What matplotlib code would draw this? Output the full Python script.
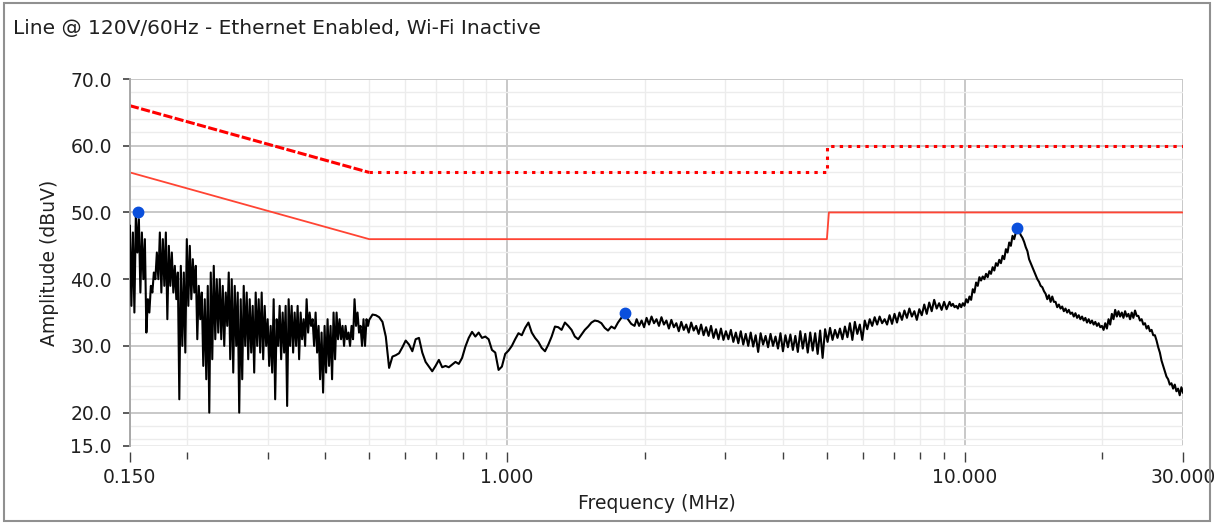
import matplotlib
matplotlib.use('Agg')
import matplotlib.pyplot as plt
from matplotlib.patches import Rectangle
from matplotlib.ticker import FixedLocator, NullFormatter
import numpy as np

seg_a_span = (0.150, 0.497)
seg_a_amp = [48, 36, 47, 35, 50, 44, 49, 38, 47, 40, 46, 32, 37, 35, 39, 38,
             41, 40, 44, 40, 47, 38, 46, 39, 47, 34, 45, 39, 44, 38, 42, 37,
             41, 22, 42, 30, 41, 29, 46, 36, 45, 37, 43, 38, 42, 31, 39, 34,
             38, 27, 37, 25, 39, 20, 41, 28, 42, 31, 40, 32, 40, 31, 39, 30,
             38, 33, 41, 28, 40, 26, 39, 30, 38, 20, 37, 25, 39, 30, 38, 28,
             37, 29, 36, 26, 38, 30, 37, 29, 38, 28, 36, 30, 34, 27, 33, 26,
             37, 22, 34, 30, 36, 28, 35, 29, 36, 21, 37, 30, 36, 29, 35, 30,
             36, 28, 35, 31, 34, 30, 37, 32, 35, 33, 34, 30, 35, 29, 33, 25,
             32, 23, 33, 26, 34, 27, 33, 25, 35, 28, 35, 31, 34, 31, 33, 30,
             33, 31, 32, 30, 33, 31, 37, 33, 35, 32, 33, 30, 34, 30, 34, 33]

seg_b_span = (0.500, 1.90)
seg_b_amp = [33.9, 34.7, 34.6, 34.3, 33.6, 31.4, 26.7, 28.4, 28.6, 28.9,
             29.8, 30.8, 30.2, 29.2, 31.0, 31.2, 29.0, 27.6, 26.9, 26.2,
             27.0, 27.9, 26.8, 27.0, 26.8, 27.2, 27.6, 27.3, 28.2, 29.9,
             31.2, 32.1, 31.4, 32.0, 31.2, 31.4, 31.0, 29.4, 29.0, 26.4,
             26.9, 28.8, 29.3, 30.0, 31.0, 31.9, 31.6, 32.7, 33.5, 32.0,
             31.2, 30.6, 29.7, 29.2, 30.2, 31.4, 32.9, 32.8, 32.4, 33.5,
             33.0, 32.4, 31.4, 31.0, 31.7, 32.4, 32.9, 33.5, 33.8, 33.7,
             33.4, 32.7, 32.3, 32.9, 32.6, 33.5, 34.2, 34.8, 34.0, 33.3, 33.0]

seg_c_span = (1.92, 9.13)
seg_c_amp = [34.0, 33.0, 33.8, 32.8, 34.2, 33.2, 34.4, 33.4, 34.0, 33.0,
             34.3, 33.2, 33.8, 32.6, 33.9, 32.8, 33.4, 32.2, 33.6, 32.4,
             33.2, 32.0, 33.5, 32.3, 33.0, 31.8, 33.2, 31.6, 32.8, 31.5,
             33.0, 31.2, 32.5, 31.0, 32.6, 30.9, 32.2, 31.0, 32.4, 30.6,
             32.0, 30.4, 32.2, 30.2, 31.8, 30.0, 32.0, 29.9, 31.6, 29.1,
             31.9, 30.2, 31.5, 29.8, 31.8, 30.0, 31.4, 29.6, 31.9, 29.2,
             31.6, 29.8, 31.7, 29.4, 31.5, 29.1, 32.2, 29.6, 31.8, 29.0,
             32.0, 29.3, 31.9, 28.8, 32.3, 28.2, 32.5, 30.6, 32.7, 30.9,
             32.4, 31.2, 32.6, 31.0, 32.9, 31.3, 33.4, 30.9, 33.6, 31.8,
             33.2, 30.9, 33.8, 32.5, 34.0, 33.0, 34.3, 33.2, 34.4, 33.4,
             34.0, 33.2, 34.6, 33.3, 34.8, 33.5, 35.0, 33.9, 35.3, 34.2,
             35.6, 34.4, 35.2, 33.9, 35.5, 34.6, 36.2, 34.8, 36.5, 35.2,
             36.9, 35.6, 36.4, 35.4, 36.6, 35.5]

seg_d_span = (9.27, 30.0)
seg_d_amp = [36.6, 36.0, 36.3, 35.8, 36.0, 35.6, 36.3, 35.8, 36.4, 36.0,
             37.0, 36.5, 37.4, 36.9, 38.5, 38.0, 39.5, 39.0, 40.3, 39.8,
             40.4, 40.0, 40.8, 40.3, 41.2, 40.8, 41.8, 41.3, 42.4, 42.0,
             42.9, 42.4, 43.5, 43.0, 44.5, 44.0, 45.5, 45.0, 46.5, 46.0,
             47.0, 47.7, 47.2, 46.6, 46.2, 45.6, 44.8, 44.2, 43.0, 42.4,
             41.8, 41.2, 40.6, 40.0, 39.6, 39.0, 38.8, 38.2, 37.8, 37.0,
             37.6, 36.6, 37.4, 36.6, 36.6, 35.8, 36.2, 35.6, 35.9, 35.2,
             35.6, 35.0, 35.4, 34.8, 35.0, 34.4, 34.9, 34.2, 34.6, 34.0,
             34.4, 33.8, 34.2, 33.5, 34.0, 33.4, 33.8, 33.2, 33.6, 33.0,
             33.4, 32.8, 33.0, 32.4, 33.4, 32.6, 34.0, 33.2, 34.8, 34.0,
             35.4, 34.4, 35.2, 34.4, 35.0, 34.2, 35.2, 34.4, 34.8, 34.0,
             35.0, 34.2, 35.3, 34.5, 34.5, 33.8, 34.0, 33.2, 33.4, 32.6,
             33.0, 32.2, 32.4, 31.6, 31.6, 30.8, 29.8, 29.0, 27.8, 27.0,
             26.2, 25.4, 25.0, 24.2, 24.4, 23.6, 24.2, 23.2, 23.6, 22.6,
             23.8, 23.0]

# limit lines (CISPR class B style)
slope_freq = [0.15, 0.5]
qp_slope = [66, 56]
flat_freq = [0.5, 5, 5, 30]
qp_flat = [56, 56, 60, 60]
avg_freq = [0.15, 0.5, 5, 5.05, 30]
avg_limit = [56, 46, 46, 50, 50]

peak_freq = [0.156, 1.81, 13.0]
peak_amp = [50.0, 34.9, 47.7]

x_major = [0.15, 1, 10, 30]
x_labels = ['0.150', '1.000', '10.000', '30.000']
x_minor = [0.2, 0.3, 0.4, 0.5, 0.6, 0.7, 0.8, 0.9, 2, 3, 4, 5, 6, 7, 8, 9, 20]
y_major = [15, 20, 30, 40, 50, 60, 70]

freq = []
amp = []
for span, vals in [(seg_a_span, seg_a_amp), (seg_b_span, seg_b_amp),
                   (seg_c_span, seg_c_amp), (seg_d_span, seg_d_amp)]:
    freq.extend(np.geomspace(span[0], span[1], len(vals)))
    amp.extend(vals)

fig = plt.figure(figsize=(12.14, 5.25), dpi=100)
ax = fig.add_axes([0.107, 0.1505, 0.8675, 0.699])

ax.plot(freq, amp, color='black', lw=1.5, zorder=3)
ax.plot(slope_freq, qp_slope, color='#ff0000', lw=2.2, ls=(0, (3, 0.8)), zorder=2)
ax.plot(flat_freq, qp_flat, color='#ff0000', lw=2.2, ls=(0, (1.1, 1.7)), zorder=2)
ax.plot(avg_freq, avg_limit, color='#ff4433', lw=1.3, zorder=2)
ax.plot(peak_freq, peak_amp, 'o', color='#0a4fdc', ms=7.5, zorder=4)

ax.set_xscale('log')
ax.set_xlim(0.15, 30)
ax.set_ylim(15, 70)

ax.xaxis.set_major_locator(FixedLocator(x_major))
ax.set_xticklabels(x_labels)
ax.xaxis.set_minor_locator(FixedLocator(x_minor))
ax.xaxis.set_minor_formatter(NullFormatter())
ax.yaxis.set_major_locator(FixedLocator(y_major))
ax.set_yticklabels([f'{v:.1f}' for v in y_major])
ax.yaxis.set_minor_locator(FixedLocator(np.arange(16, 70, 2)))

ax.grid(True, which='major', color='#c8c8c8', lw=1.4)
ax.grid(True, which='minor', color='#ececec', lw=1.0)
ax.get_ygridlines()[0].set_color('#ececec')
ax.get_xgridlines()[0].set_visible(False)
ax.get_xgridlines()[-1].set_visible(False)
ax.set_axisbelow(True)

for side in ['top', 'right']:
    ax.spines[side].set_visible(False)
ax.spines['left'].set_color('#a8a8a8')
ax.spines['left'].set_linewidth(1.4)
ax.spines['bottom'].set_position(('outward', 4))
ax.spines['bottom'].set_visible(False)

ax.tick_params(axis='y', which='major', length=5, width=1.2, color='#404040',
               labelsize=13.5, labelcolor='#202020', pad=8)
ax.tick_params(axis='y', which='minor', length=0)
ax.tick_params(axis='x', which='major', length=7, width=1.0, color='#404040',
               labelsize=13.5, labelcolor='#202020', pad=5)
ax.tick_params(axis='x', which='minor', length=5, width=1.0, color='#404040')

ax.set_xlabel('Frequency (MHz)', fontsize=13.5, color='#202020', labelpad=5)
ax.set_ylabel('Amplitude (dBuV)', fontsize=13.5, color='#202020', labelpad=8)

fig.text(0.011, 0.946, 'Line @ 120V/60Hz - Ethernet Enabled, Wi-Fi Inactive',
         fontsize=14.5, color='#202020', va='center', ha='left')

fig.patches.append(Rectangle((0.003, 0.008), 0.994, 0.986, transform=fig.transFigure,
                             fill=False, edgecolor='#909090', lw=1.5))

fig.savefig('out.png', dpi=100)
